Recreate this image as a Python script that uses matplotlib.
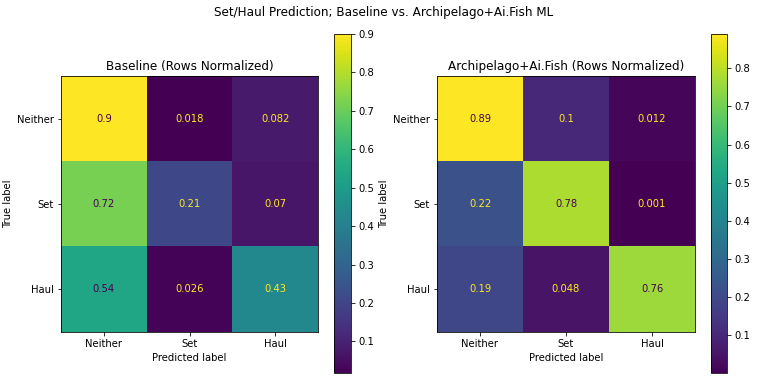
import matplotlib
matplotlib.use("Agg")
import matplotlib.pyplot as plt
import numpy as np

labels = ["Neither", "Set", "Haul"]
baseline = [[0.9, 0.018, 0.082],
            [0.72, 0.21, 0.07],
            [0.54, 0.026, 0.43]]
archi = [[0.89, 0.1, 0.012],
         [0.22, 0.78, 0.001],
         [0.19, 0.048, 0.76]]
titles = ["Baseline (Rows Normalized)", "Archipelago+Ai.Fish (Rows Normalized)"]
suptitle = "Set/Haul Prediction; Baseline vs. Archipelago+Ai.Fish ML"

fig = plt.figure(figsize=(768 / 72, 384 / 72), dpi=72)
cmap = plt.get_cmap("viridis")

ax_pos = [[61 / 768, 1 - 332 / 384, 257 / 768, 256 / 384],
          [437 / 768, 1 - 332 / 384, 258 / 768, 256 / 384]]
cb_pos = [[334 / 768, 1 - 373 / 384, 17 / 768, 339 / 384],
          [711 / 768, 1 - 373 / 384, 16 / 768, 339 / 384]]

for data, title, ap, cp in zip([baseline, archi], titles, ax_pos, cb_pos):
    cm = np.array(data)
    ax = fig.add_axes(ap)
    cax = fig.add_axes(cp)
    im = ax.imshow(cm, cmap=cmap, interpolation="nearest", aspect="auto")
    vmin, vmax = cm.min(), cm.max()
    thresh = (vmin + vmax) / 2
    for i in range(3):
        for j in range(3):
            color = cmap(0) if cm[i, j] >= thresh else cmap(256)
            ax.text(j, i, format(cm[i, j], ".2g"), ha="center", va="center",
                    color=color, fontsize=10)
    fig.colorbar(im, cax=cax)
    ax.set_xticks(range(3))
    ax.set_yticks(range(3))
    ax.set_xticklabels(labels)
    ax.set_yticklabels(labels)
    ax.set_xlabel("Predicted label")
    ax.set_ylabel("True label")
    ax.set_title(title, fontsize=12)
    ax.set_xlim(-0.5, 2.5)
    ax.set_ylim(2.5, -0.5)

fig.suptitle(suptitle, fontsize=12, y=0.985)
fig.savefig("out.png", dpi=72, facecolor="white")
